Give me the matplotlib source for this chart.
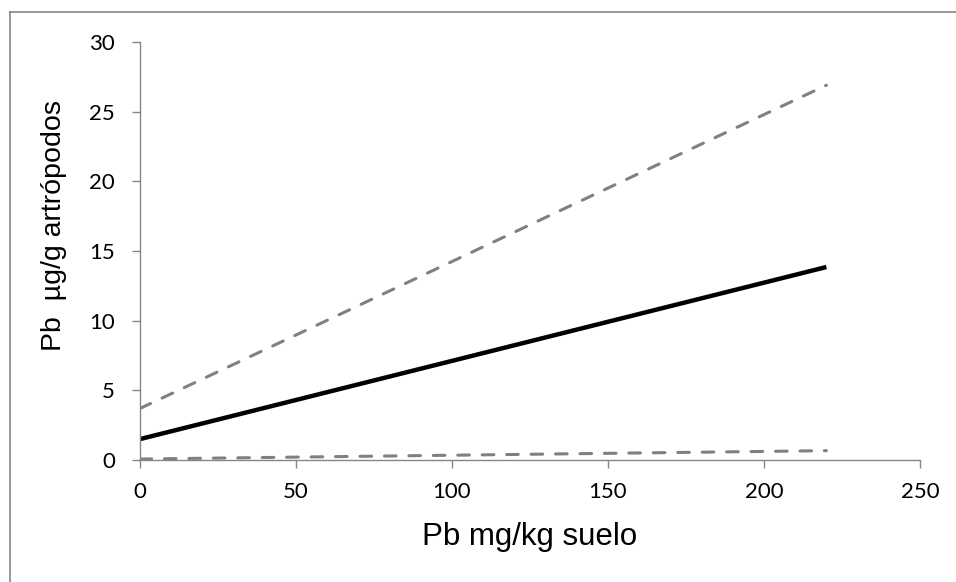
import matplotlib.pyplot as plt
from matplotlib.lines import Line2D

# soil Pb (mg/kg) vs arthropod Pb (ug/g): fit and confidence band
soil_pb = [0, 220]
fit_pb = [1.5, 13.85]
upper_pb = [3.7, 26.9]
lower_pb = [0.07, 0.67]

x_ticks = [0, 50, 100, 150, 200, 250]
y_ticks = [0, 5, 10, 15, 20, 25, 30]

axis_grey = "#868686"
dash_grey = "#808080"

fig = plt.figure(figsize=(9.56, 5.82), dpi=100)
ax = fig.add_axes([140 / 956, (582 - 460) / 582, 780 / 956, 418 / 582])

dash_kw = dict(color=dash_grey, lw=2.2, dashes=(3.8, 4.2),
               dash_capstyle="round", solid_capstyle="round")
ax.plot(soil_pb, upper_pb, **dash_kw)
ax.plot(soil_pb, lower_pb, **dash_kw)
ax.plot(soil_pb, fit_pb, color="black", lw=3.2, solid_capstyle="butt")

ax.set_xlim(0, 250)
ax.set_ylim(0, 30)
ax.set_xticks(x_ticks)
ax.set_yticks(y_ticks)

for side in ["top", "right"]:
    ax.spines[side].set_visible(False)
for side in ["left", "bottom"]:
    ax.spines[side].set_color(axis_grey)
    ax.spines[side].set_linewidth(1.0)

ax.tick_params(direction="out", length=6, width=1.0, color=axis_grey,
               labelsize=16)
ax.tick_params(axis="y", pad=12)
ax.tick_params(axis="x", pad=10)
for lab in ax.get_xticklabels() + ax.get_yticklabels():
    lab.set_fontfamily("Lato")

ax.set_xlabel("Pb mg/kg suelo", fontsize=22.5, fontfamily="Liberation Sans")
ax.set_ylabel("Pb  µg/g artrópodos", fontsize=20.5, fontfamily="Liberation Sans")
ax.xaxis.set_label_coords(0.5, -0.148)
ax.yaxis.set_label_coords(-0.094, 0.56)

# outer frame lines of the chart area
fig.add_artist(Line2D([9.5 / 956, 9.5 / 956], [0, 1 - 12 / 582],
                      transform=fig.transFigure, color=axis_grey, lw=1.2))
fig.add_artist(Line2D([9.5 / 956, 1], [1 - 12 / 582, 1 - 12 / 582],
                      transform=fig.transFigure, color=axis_grey, lw=1.2))

fig.savefig("out.png", dpi=100)
